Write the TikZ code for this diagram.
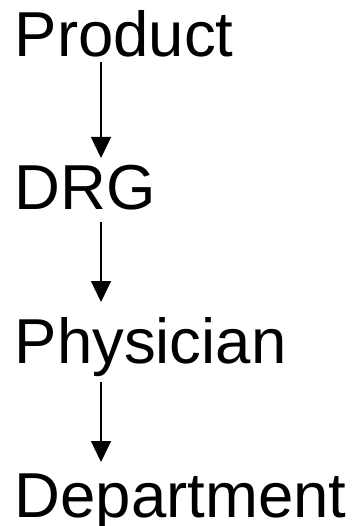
\documentclass[tikz,border=0pt]{standalone}
\usepackage{fontspec}
\setmainfont{Liberation Sans}
\usetikzlibrary{arrows.meta}
\begin{document}
\begin{tikzpicture}[x=1pt,y=1pt,
  level/.style={anchor=base west,inner sep=0pt,font=\fontsize{63.5}{63.5}\selectfont},
  arr/.style={line width=1.3pt,-{Triangle[length=21pt,width=20pt]}}]
  \useasboundingbox (0,0) rectangle (355,-526);
  % hierarchy levels
  \node[level] (prod) at (14.5,-57) {Product};
  \node[level] (drg)  at (14.5,-210) {DRG};
  \node[level] (phys) at (14.5,-363) {Physician};
  \node[level] (dept) at (14.5,-517) {Department};
  % drill-down arrows
  \draw[arr] ([shift={(86.5,-5)}]prod.base west) -- ([shift={(86.5,52)}]drg.base west);
  \draw[arr] ([shift={(86.5,-12)}]drg.base west) -- ([shift={(86.5,61)}]phys.base west);
  \draw[arr] ([shift={(86.5,-19)}]phys.base west) -- ([shift={(86.5,55)}]dept.base west);
\end{tikzpicture}
\end{document}
